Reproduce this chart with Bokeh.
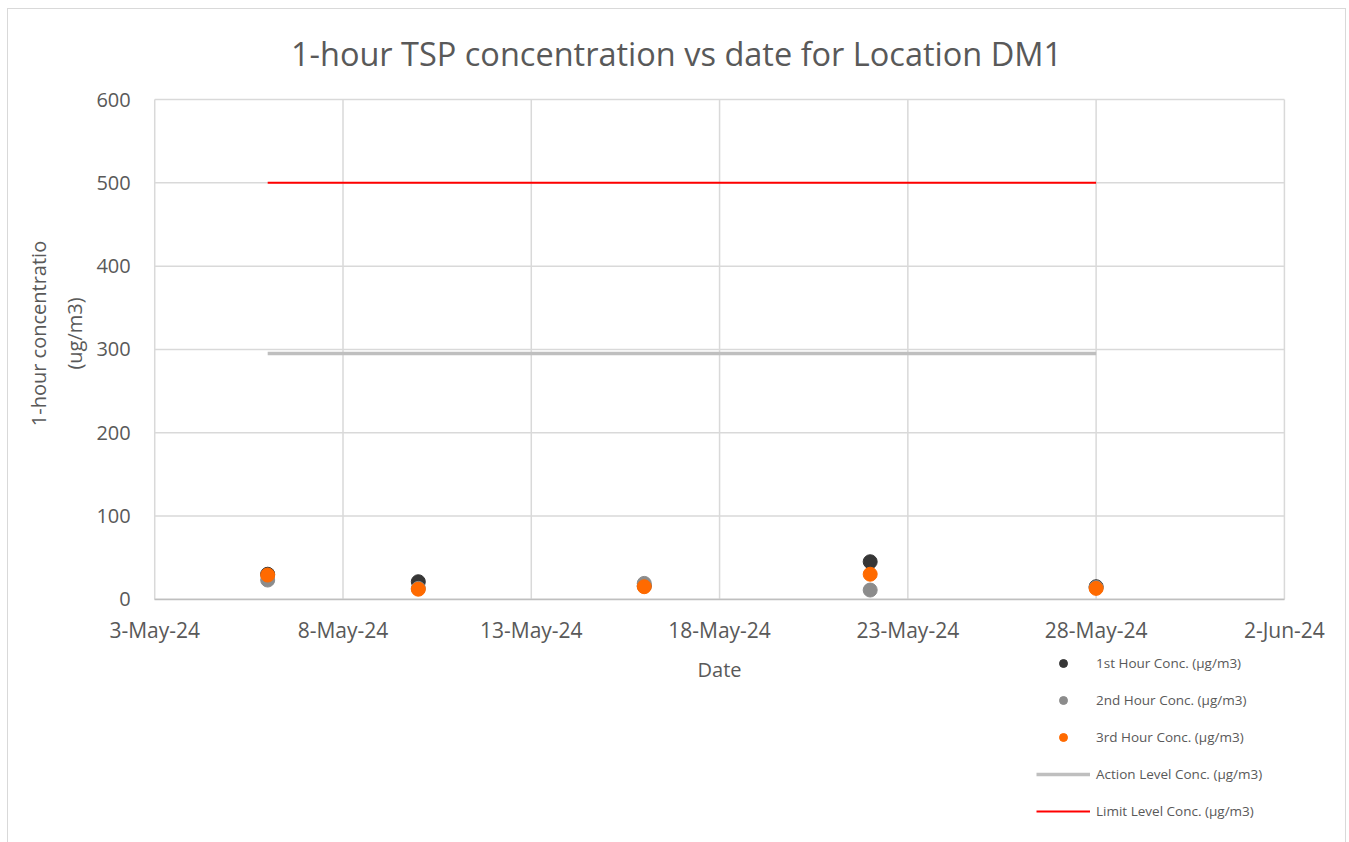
import math
import pandas as pd
from bokeh.plotting import figure
from bokeh.models import (ColumnDataSource, FixedTicker, Range1d, Legend, LegendItem, Label)
from bokeh.embed import file_html
from bokeh.resources import INLINE

# ---- data ----
dates = ["2024-05-06", "2024-05-10", "2024-05-16", "2024-05-22", "2024-05-28"]
hour1 = [30, 21, 16, 45, 15]
hour2 = [23, 13, 19, 11, 14]
hour3 = [29, 12, 15, 30, 13]
action_level = [295, 295, 295, 295, 295]
limit_level = [500, 500, 500, 500, 500]

tick_dates = ["2024-05-03", "2024-05-08", "2024-05-13", "2024-05-18",
              "2024-05-23", "2024-05-28", "2024-06-02"]
tick_labels = ["3-May-24", "8-May-24", "13-May-24", "18-May-24",
               "23-May-24", "28-May-24", "2-Jun-24"]
y_ticks = [0, 100, 200, 300, 400, 500, 600]

series_names = ["1st Hour Conc. (µg/m3)", "2nd Hour Conc. (µg/m3)",
                "3rd Hour Conc. (µg/m3)", "Action Level Conc. (µg/m3)",
                "Limit Level Conc. (µg/m3)"]
title_text = "1-hour TSP concentration vs date for Location DM1"
y_label_lines = ["1-hour concentratio", "(ug/m3)"]
x_label = "Date"

FONT = "Open Sans"
TXT = "#595959"
GRID = "#d9d9d9"

def ms(d):
    return pd.Timestamp(d).value / 1e6

# ---- geometry (pixels) ----
W, H = 1339, 834
CANVAS_W = W - 2
CANVAS_H = H - 1            # no bottom border
AREA_LEFT = 146             # plot area left edge from canvas left
PLOT_W = 1128               # width of the 3-May .. 2-Jun span
PLOT_H = 499                # height of the 0 .. 600 span
ZERO_FROM_BOTTOM = CANVAS_H - 589   # y=0 line distance from canvas bottom

tx = [ms(d) for d in tick_dates]
x_span = tx[-1] - tx[0]
mpp = x_span / PLOT_W
x0 = tx[0] - AREA_LEFT * mpp
x1 = tx[0] + (CANVAS_W - AREA_LEFT) * mpp
ppu = PLOT_H / (y_ticks[-1] - y_ticks[0])
y0 = -ZERO_FROM_BOTTOM / ppu
y1 = y0 + CANVAS_H / ppu

x = [ms(d) for d in dates]
src = ColumnDataSource(dict(x=x, h1=hour1, h2=hour2, h3=hour3,
                            act=action_level, lim=limit_level))

p = figure(width=W, height=H, x_axis_type="datetime",
           output_backend="svg", toolbar_location=None,
           x_range=Range1d(x0, x1), y_range=Range1d(y0, y1),
           min_border_left=0, min_border_top=0,
           min_border_right=0, min_border_bottom=0)
p.styles = {"border": "1px solid #d9d9d9", "border-bottom": "none",
            "margin-left": "7px", "margin-top": "8px"}
p.outline_line_color = None
p.xgrid.visible = False
p.ygrid.visible = False

# grid lines (limited to the plot area)
p.segment(x0=tx, y0=[y_ticks[0]] * len(tx), x1=tx, y1=[y_ticks[-1]] * len(tx),
          line_color=GRID, line_width=1.5)
p.segment(x0=[tx[0]] * len(y_ticks), y0=y_ticks, x1=[tx[-1]] * len(y_ticks), y1=y_ticks,
          line_color=GRID, line_width=1.5)

# lines
r_act = p.line("x", "act", source=src, line_color="#bfbfbf", line_width=3.5)
r_lim = p.line("x", "lim", source=src, line_color="#ff0000", line_width=2)
# points
r1 = p.scatter("x", "h1", source=src, size=14, color="#363636")
r2 = p.scatter("x", "h2", source=src, size=14, color="#8c8c8c")
r3 = p.scatter("x", "h3", source=src, size=14, color="#ff6a00")

# legend proxies (smaller markers, hidden in the plot)
l1 = p.scatter("x", "h1", source=src, size=9, color="#363636", visible=False)
l2 = p.scatter("x", "h2", source=src, size=9, color="#8c8c8c", visible=False)
l3 = p.scatter("x", "h3", source=src, size=9, color="#ff6a00", visible=False)

legend = Legend(items=[
    LegendItem(label=series_names[0], renderers=[l1]),
    LegendItem(label=series_names[1], renderers=[l2]),
    LegendItem(label=series_names[2], renderers=[l3]),
    LegendItem(label=series_names[3], renderers=[r_act]),
    LegendItem(label=series_names[4], renderers=[r_lim]),
], location=(1028, 22), orientation="vertical",
    glyph_width=54, glyph_height=20, label_height=20, spacing=17,
    label_standoff=6, padding=0, margin=0,
    border_line_alpha=0, background_fill_alpha=0,
    inactive_fill_alpha=0, click_policy="none",
    label_text_font=FONT, label_text_font_size="13.5px", label_text_color=TXT)
p.add_layout(legend, "center")

# axes (fixed inside the canvas-wide frame)
xa = p.xaxis[0]
xa.fixed_location = 0
xa.bounds = (tx[0], tx[-1])
xa.ticker = FixedTicker(ticks=tx)
xa.major_label_overrides = {t: l for t, l in zip(tx, tick_labels)}
xa.axis_label = x_label
ya = p.yaxis[0]
ya.fixed_location = tx[0]
ya.bounds = (y_ticks[0], y_ticks[-1])
ya.ticker = FixedTicker(ticks=y_ticks)

for ax in (xa, ya):
    ax.major_tick_line_color = None
    ax.minor_tick_line_color = None
    ax.major_tick_out = 0
    ax.major_tick_in = 0
    ax.major_label_text_font = FONT
    ax.major_label_text_color = TXT
    ax.axis_label_text_font = FONT
    ax.axis_label_text_font_size = "20px"
    ax.axis_label_text_font_style = "normal"
    ax.axis_label_text_color = TXT
xa.major_label_text_font_size = "21px"
ya.major_label_text_font_size = "20px"
xa.axis_line_color = "#bfbfbf"
xa.axis_line_width = 1.5
ya.axis_line_color = None
xa.major_label_standoff = 17
ya.major_label_standoff = 24
xa.axis_label_standoff = 8

# y axis title (two lines, rotated)
for txt, xc in zip(y_label_lines, [30, 66]):
    p.add_layout(Label(x=xc, y=CANVAS_H - 323, x_units="screen", y_units="screen",
                       text=txt, angle=math.pi / 2,
                       text_font=FONT, text_font_size="20px", text_color=TXT,
                       text_align="center", text_baseline="middle"))

# chart title
p.add_layout(Label(x=668, y=CANVAS_H - 43, x_units="screen", y_units="screen",
                   text=title_text,
                   text_font=FONT, text_font_size="32.5px", text_color=TXT,
                   text_align="center", text_baseline="middle"))

open("out.html", "w").write(file_html(p, INLINE))
